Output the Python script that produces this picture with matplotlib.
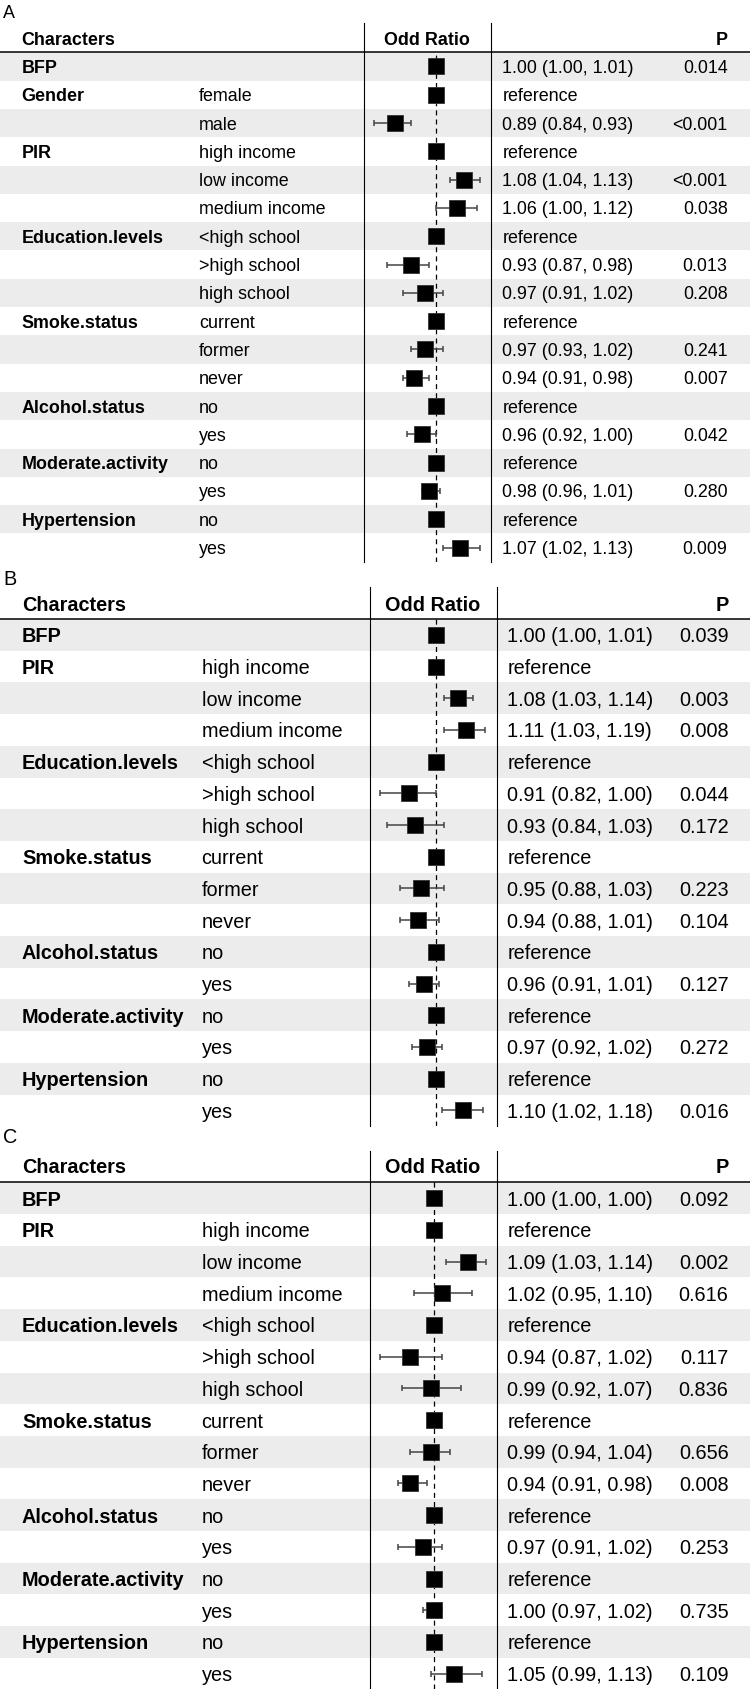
import matplotlib
matplotlib.use("Agg")
import matplotlib.pyplot as plt
import numpy as np

plt.rcParams['font.family'] = ['Liberation Sans', 'DejaVu Sans']

nan = np.nan

# ---- Panel A ----
a_group = ["BFP", "Gender", "", "PIR", "", "", "Education.levels", "", "",
           "Smoke.status", "", "", "Alcohol.status", "", "Moderate.activity", "",
           "Hypertension", ""]
a_sub = ["", "female", "male", "high income", "low income", "medium income",
         "<high school", ">high school", "high school", "current", "former", "never",
         "no", "yes", "no", "yes", "no", "yes"]
a_or = [1.00, 1.00, 0.89, 1.00, 1.08, 1.06, 1.00, 0.93, 0.97, 1.00, 0.97, 0.94,
        1.00, 0.96, 1.00, 0.98, 1.00, 1.07]
a_lo = [1.00, nan, 0.84, nan, 1.04, 1.00, nan, 0.87, 0.91, nan, 0.93, 0.91,
        nan, 0.92, nan, 0.96, nan, 1.02]
a_hi = [1.01, nan, 0.93, nan, 1.13, 1.12, nan, 0.98, 1.02, nan, 1.02, 0.98,
        nan, 1.00, nan, 1.01, nan, 1.13]
a_p = ["0.014", "", "<0.001", "", "<0.001", "0.038", "", "0.013", "0.208", "",
       "0.241", "0.007", "", "0.042", "", "0.280", "", "0.009"]

# ---- Panel B ----
b_group = ["BFP", "PIR", "", "", "Education.levels", "", "", "Smoke.status", "", "",
           "Alcohol.status", "", "Moderate.activity", "", "Hypertension", ""]
b_sub = ["", "high income", "low income", "medium income", "<high school",
         ">high school", "high school", "current", "former", "never",
         "no", "yes", "no", "yes", "no", "yes"]
b_or = [1.00, 1.00, 1.08, 1.11, 1.00, 0.91, 0.93, 1.00, 0.95, 0.94,
        1.00, 0.96, 1.00, 0.97, 1.00, 1.10]
b_lo = [1.00, nan, 1.03, 1.03, nan, 0.82, 0.84, nan, 0.88, 0.88,
        nan, 0.91, nan, 0.92, nan, 1.02]
b_hi = [1.01, nan, 1.14, 1.19, nan, 1.00, 1.03, nan, 1.03, 1.01,
        nan, 1.01, nan, 1.02, nan, 1.18]
b_p = ["0.039", "", "0.003", "0.008", "", "0.044", "0.172", "", "0.223", "0.104",
       "", "0.127", "", "0.272", "", "0.016"]

# ---- Panel C ----
c_group = b_group
c_sub = b_sub
c_or = [1.00, 1.00, 1.09, 1.02, 1.00, 0.94, 0.99, 1.00, 0.99, 0.94,
        1.00, 0.97, 1.00, 1.00, 1.00, 1.05]
c_lo = [1.00, nan, 1.03, 0.95, nan, 0.87, 0.92, nan, 0.94, 0.91,
        nan, 0.91, nan, 0.97, nan, 0.99]
c_hi = [1.00, nan, 1.14, 1.10, nan, 1.02, 1.07, nan, 1.04, 0.98,
        nan, 1.02, nan, 1.02, nan, 1.13]
c_p = ["0.092", "", "0.002", "0.616", "", "0.117", "0.836", "", "0.656", "0.008",
       "", "0.253", "", "0.735", "", "0.109"]

W, H = 750, 1690
fig = plt.figure(figsize=(W / 100, H / 100), dpi=100)
bg = fig.add_axes([0, 0, 1, 1])
bg.set_xlim(0, W)
bg.set_ylim(H, 0)
bg.axis('off')

band = '#ECECEC'

# layout in pixels for each panel
panels = [
    dict(label="A", data=(a_group, a_sub, a_or, a_lo, a_hi, a_p),
         label_y=13, vtop=24, head_y=40.7, line_y=53.3, row_h=28.3,
         c1=364, c2=490.7, xg=21.5, xs=199, xe=502.3, xp=727.5,
         fs=12.9, xlim=(0.8157, 1.1656), box=11.3),
    dict(label="B", data=(b_group, b_sub, b_or, b_lo, b_hi, b_p),
         label_y=580, vtop=588, head_y=605.7, line_y=620, row_h=31.7,
         c1=369.5, c2=496.5, xg=22, xs=201.5, xe=507.3, xp=728.5,
         fs=14.3, xlim=(0.791, 1.2375), box=11.2),
    dict(label="C", data=(c_group, c_sub, c_or, c_lo, c_hi, c_p),
         label_y=1138, vtop=1151.7, head_y=1168, line_y=1183.3, row_h=31.7,
         c1=369.5, c2=496.5, xg=22, xs=201.5, xe=507.3, xp=728.5,
         fs=14.3, xlim=(0.847, 1.172), box=11.6),
]

for p in panels:
    group, sub, orr, lo, hi, pv = p['data']
    n = len(group)
    y0 = p['line_y']
    h = p['row_h']
    bottom = min(y0 + n * h, H)
    fs = p['fs']

    # alternating row bands
    for i in range(n):
        if i % 2 == 0:
            bg.add_patch(plt.Rectangle((0, y0 + i * h), W, h, color=band, lw=0, zorder=0))

    bg.text(3, p['label_y'], p['label'], fontsize=fs, ha='left', va='center')

    # header
    hy = p['head_y']
    bg.text(p['xg'], hy, "Characters", fontsize=fs, fontweight='bold', ha='left', va='center')
    bg.text((p['c1'] + p['c2']) / 2, hy, "Odd Ratio", fontsize=fs, fontweight='bold',
            ha='center', va='center')
    bg.text(p['xp'], hy, "P", fontsize=fs, fontweight='bold', ha='right', va='center')
    bg.plot([0, W], [y0, y0], color='black', lw=1.1, zorder=3)
    for cx in (p['c1'], p['c2']):
        bg.plot([cx, cx], [p['vtop'], bottom], color='black', lw=0.8, zorder=3)

    # rows
    for i in range(n):
        yc = y0 + (i + 0.5) * h + 1
        if group[i]:
            bg.text(p['xg'], yc, group[i], fontsize=fs, fontweight='bold', ha='left', va='center')
        if sub[i]:
            bg.text(p['xs'], yc, sub[i], fontsize=fs, ha='left', va='center')
        if np.isnan(lo[i]):
            est = "reference"
        else:
            est = f"{orr[i]:.2f} ({lo[i]:.2f}, {hi[i]:.2f})"
        bg.text(p['xe'], yc, est, fontsize=fs, ha='left', va='center')
        if pv[i]:
            bg.text(p['xp'], yc, pv[i], fontsize=fs, ha='right', va='center')

    # forest column
    ax = fig.add_axes([p['c1'] / W, 1 - bottom / H, (p['c2'] - p['c1']) / W, (bottom - y0) / H])
    ax.set_facecolor('none')
    ax.set_xscale('log')
    ax.set_xlim(*p['xlim'])
    ax.set_ylim((bottom - y0) / h, 0)
    ax.axis('off')
    ax.axvline(1, color='black', lw=0.9, ls=(0, (4, 3.3)), zorder=1)
    ypos = np.arange(n) + 0.5
    orr = np.array(orr)
    lo = np.array(lo)
    hi = np.array(hi)
    has_ci = ~np.isnan(lo)
    ax.errorbar(orr[has_ci], ypos[has_ci],
                xerr=[orr[has_ci] - lo[has_ci], hi[has_ci] - orr[has_ci]],
                fmt='none', ecolor='#444444', elinewidth=1.1, capsize=2.3, capthick=1.1, zorder=2)
    ax.plot(orr, ypos, ls='none', marker='s', markersize=p['box'],
            markerfacecolor='black', markeredgecolor='#333333', markeredgewidth=0.6, zorder=3)

fig.savefig("out.png", dpi=100)
